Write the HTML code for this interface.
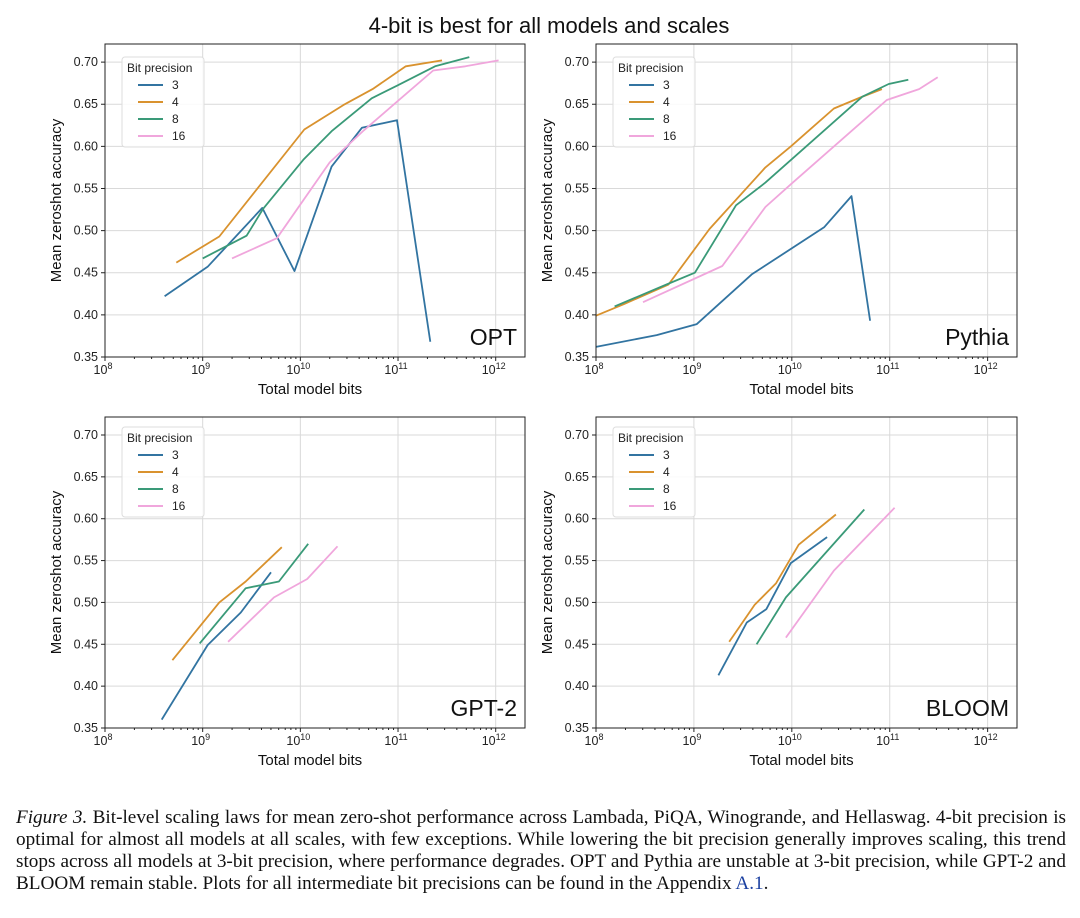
<!DOCTYPE html>
<html><head><meta charset="utf-8">
<style>
body{margin:0;background:#fff;width:1080px;height:918px;overflow:hidden;position:relative;font-family:"Liberation Sans",sans-serif;}
#cap{position:absolute;left:16px;top:807px;width:1050px;font-family:"Liberation Serif",serif;font-size:19.2px;line-height:22px;color:#111;}
#cap .ln{text-align:justify;text-align-last:justify;white-space:nowrap;}
#cap .last{text-align:left;text-align-last:left;}
#cap a{color:#1a3fa0;text-decoration:none}
</style></head><body>
<svg id="fig" width="1080" height="800" style="position:absolute;left:0;top:0">
<text x="549" y="33" font-size="22" text-anchor="middle" fill="#111">4-bit is best for all models and scales</text>
</svg>
<div id="cap">
<div class="ln"><i>Figure 3.</i> Bit-level scaling laws for mean zero-shot performance across Lambada, PiQA, Winogrande, and Hellaswag. 4-bit precision is</div>
<div class="ln">optimal for almost all models at all scales, with few exceptions. While lowering the bit precision generally improves scaling, this trend</div>
<div class="ln">stops across all models at 3-bit precision, where performance degrades. OPT and Pythia are unstable at 3-bit precision, while GPT-2 and</div>
<div class="ln last">BLOOM remain stable. Plots for all intermediate bit precisions can be found in the Appendix <a>A.1</a>.</div>
</div>
<script>
const bits = ["3","4","8","16"];
const colors = ["#3274a1","#d9922e","#3a9a78","#f0a6dc"];
const xTicks = [8,9,10,11,12];
const yTicks = [0.35,0.40,0.45,0.50,0.55,0.60,0.65,0.70];
const panelNames = ["OPT","Pythia","GPT-2","BLOOM"];
// log10(total bits) and accuracy per panel, per bit precision
const optX = [[8.61,9.05,9.61,9.94,10.32,10.63,10.99,11.33],[8.73,9.17,10.04,10.44,10.74,11.08,11.45],[9.0,9.45,9.62,10.03,10.32,10.73,10.99,11.38,11.73],[9.30,9.76,10.30,10.65,10.99,11.36,11.69,12.03]];
const optY = [[0.422,0.457,0.527,0.452,0.576,0.622,0.631,0.368],[0.462,0.493,0.620,0.649,0.668,0.695,0.702],[0.467,0.494,0.526,0.584,0.618,0.657,0.672,0.695,0.706],[0.467,0.491,0.581,0.619,0.653,0.690,0.695,0.702]];
const pyX = [[8.0,8.62,9.03,9.59,10.33,10.61,10.80],[8.0,8.29,8.74,9.16,9.73,9.99,10.43,10.70,10.92],[8.19,8.72,9.01,9.43,9.73,10.72,10.99,11.19],[8.48,9.29,9.73,9.99,10.97,11.30,11.49]];
const pyY = [[0.362,0.376,0.389,0.448,0.504,0.541,0.393],[0.399,0.413,0.436,0.502,0.575,0.600,0.645,0.658,0.668],[0.410,0.436,0.450,0.530,0.557,0.659,0.674,0.679],[0.415,0.458,0.528,0.555,0.655,0.668,0.682]];
const gptX = [[8.58,9.05,9.39,9.70],[8.69,9.17,9.44,9.81],[8.97,9.44,9.78,10.08],[9.26,9.73,10.07,10.38]];
const gptY = [[0.360,0.449,0.488,0.536],[0.431,0.500,0.525,0.566],[0.451,0.517,0.525,0.570],[0.453,0.506,0.528,0.567]];
const blX = [[9.25,9.54,9.74,9.99,10.36],[9.36,9.62,9.84,10.07,10.45],[9.64,9.94,10.74],[9.94,10.43,11.05]];
const blY = [[0.413,0.476,0.492,0.547,0.578],[0.453,0.497,0.523,0.569,0.605],[0.450,0.506,0.611],[0.458,0.538,0.613]];

const panels = [
 {L:105,R:525,T:44,B:357,xs:optX,ys:optY},
 {L:596,R:1017,T:44,B:357,xs:pyX,ys:pyY},
 {L:105,R:525,T:417,B:728,xs:gptX,ys:gptY},
 {L:596,R:1017,T:417,B:728,xs:blX,ys:blY}
];
const svg=document.getElementById('fig');
const NS="http://www.w3.org/2000/svg";
function mk(tag,attrs,parent){const e=document.createElementNS(NS,tag);for(const k in attrs)e.setAttribute(k,attrs[k]);(parent||svg).appendChild(e);return e;}
panels.forEach((p,pi)=>{
  const g=mk('g',{});
  
  
  const xmin=8,xmax=12.3,ymin=0.35,ymax=0.7215;
  const sx=v=>p.L+(v-xmin)/(xmax-xmin)*(p.R-p.L);
  const sy=v=>p.B-(v-ymin)/(ymax-ymin)*(p.B-p.T);
  xTicks.forEach(t=>{const l=mk('line',{x1:sx(t),x2:sx(t),y1:p.T,y2:p.B,stroke:'#d9d9d9','stroke-width':1},g);
    });
  yTicks.forEach(t=>{const l=mk('line',{x1:p.L,x2:p.R,y1:sy(t),y2:sy(t),stroke:'#d9d9d9','stroke-width':1},g);
    });
  bits.forEach((b,si)=>{
    const pts=p.xs[si].map((x,i)=>sx(x).toFixed(1)+','+sy(p.ys[si][i]).toFixed(1)).join(' ');
    const pl=mk('polyline',{points:pts,fill:'none',stroke:colors[si],'stroke-width':1.8,'stroke-linejoin':'round'},g);
    
    
  });
  const fr=mk('rect',{x:p.L,y:p.T,width:p.R-p.L,height:p.B-p.T,fill:'none',stroke:'#222','stroke-width':1},g);
  
  xTicks.forEach(t=>{
    mk('line',{x1:sx(t),x2:sx(t),y1:p.B,y2:p.B+4,stroke:'#222'},g);
    const tx=mk('text',{x:sx(t)-2,y:p.B+17,'font-size':12.5,'text-anchor':'middle',fill:'#222'},g);
    
    tx.textContent='10';
    const sp=mk('tspan',{dy:-5,'font-size':9},tx);sp.textContent=String(t);
    if(t<12){for(let k=2;k<10;k++){const v=t+Math.log10(k);if(v<=xmax)mk('line',{x1:sx(v),x2:sx(v),y1:p.B,y2:p.B+2,stroke:'#222'},g);}}
  });
  yTicks.forEach(t=>{
    mk('line',{x1:p.L-4,x2:p.L,y1:sy(t),y2:sy(t),stroke:'#222'},g);
    const ty=mk('text',{x:p.L-7,y:sy(t)+4,'font-size':12.5,'text-anchor':'end',fill:'#222'},g);
    
    ty.textContent=t.toFixed(2);
  });
  const xl=mk('text',{x:(p.L+p.R)/2-5,y:p.B+37,'font-size':15,'text-anchor':'middle',fill:'#111'},g);
  
  xl.textContent='Total model bits';
  const cy=(p.T+p.B)/2;
  const yl=mk('text',{x:p.L-44,y:cy,'font-size':15,'text-anchor':'middle',fill:'#111',transform:`rotate(-90 ${p.L-44} ${cy})`},g);
  
  yl.textContent='Mean zeroshot accuracy';
  const nm=mk('text',{x:p.R-8,y:p.B-12,'font-size':23,'text-anchor':'end',fill:'#111'},g);
  
  nm.textContent=panelNames[pi];
  const lx=p.L+17,ly=p.T+(pi<2?13:10);
  const lg=mk('g',{},g);
  
  mk('rect',{x:lx,y:ly,width:82,height:90,rx:3,fill:'#fff','fill-opacity':0.85,stroke:'#ddd'},lg);
  const lt=mk('text',{x:lx+5,y:ly+15,'font-size':12,fill:'#222'},lg);lt.textContent='Bit precision';
  bits.forEach((b,si)=>{
    const yy=ly+28+si*17;
    const e=mk('g',{},lg);
    
    mk('line',{x1:lx+16,x2:lx+41,y1:yy,y2:yy,stroke:colors[si],'stroke-width':2},e);
    const t=mk('text',{x:lx+50,y:yy+4,'font-size':12,fill:'#222'},e);t.textContent=b;
  });
});
</script>
</body></html>
